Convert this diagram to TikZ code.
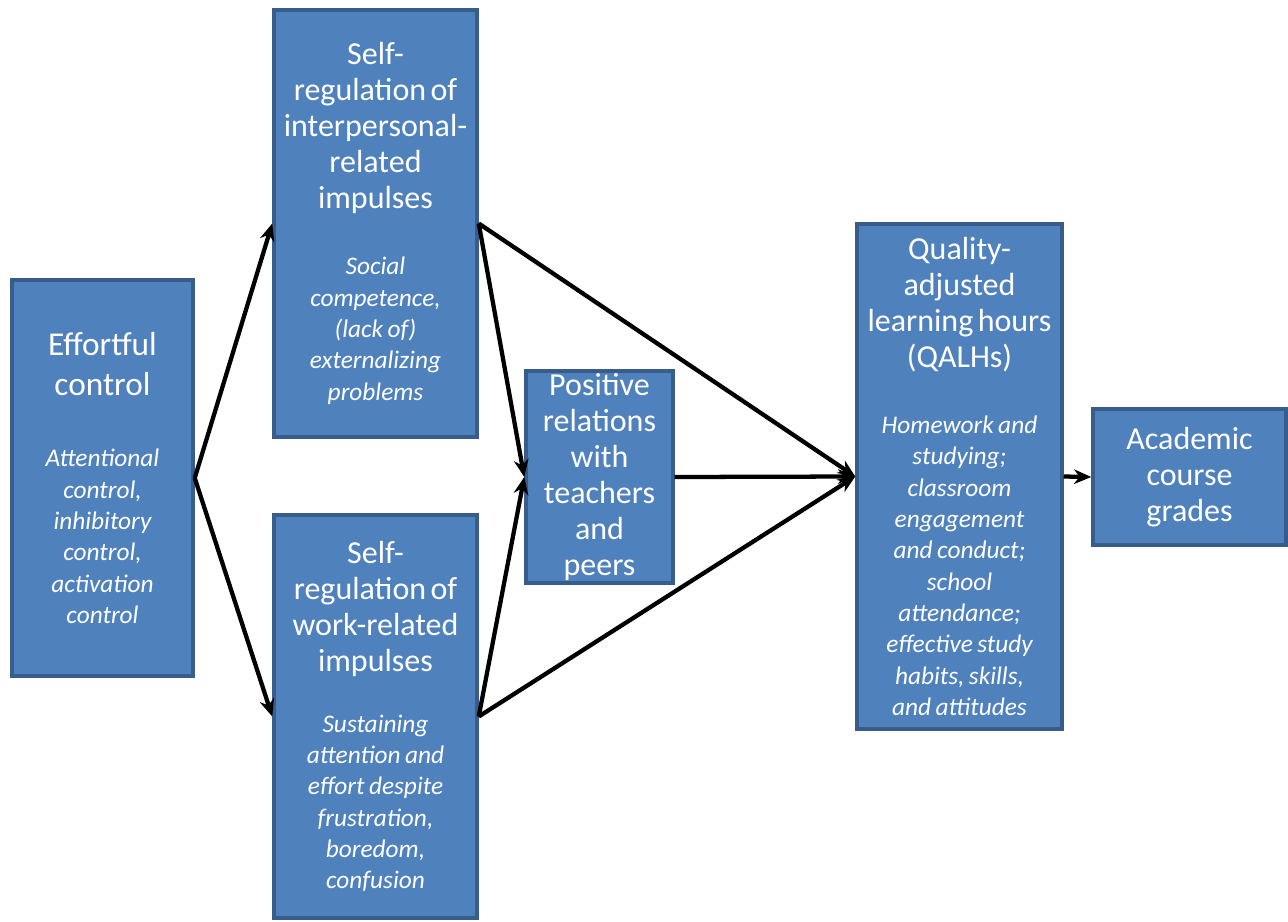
\documentclass[tikz,border=0pt]{standalone}
\usepackage{fontspec}
\setmainfont{Carlito}
\usetikzlibrary{arrows.meta}
\definecolor{boxfill}{RGB}{79,129,189}
\definecolor{boxline}{RGB}{56,93,138}
\newcommand\bxttl[1]{{\fontsize{24}{27}\selectfont #1\par}}
\newcommand\bxbig[1]{{\fontsize{25}{30}\selectfont #1\par}}
\newcommand\bxsub[1]{{\fontsize{19}{23.5}\selectfont\itshape #1\par}}
\begin{document}
\begin{tikzpicture}[x=0.75pt,y=-0.75pt,
  box/.style={draw=boxline, fill=boxfill, line width=2.6pt, text=white,
    align=center, inner sep=0pt},
  arr/.style={-{Stealth[length=13pt,width=11pt]}, line width=3.2pt, black}]
\useasboundingbox (0,0) rectangle (1288,921);

\node[box, minimum width=181*0.75pt, minimum height=396*0.75pt, text width=175*0.75pt]
  (ec) at (102.5,478) {\bxbig{Effortful\\control}\vspace{30pt}
  \bxsub{Attentional\\control,\\inhibitory\\control,\\activation\\control}};

\node[box, minimum width=203*0.75pt, minimum height=427*0.75pt, text width=198*0.75pt]
  (ip) at (375.5,223.5) {\bxttl{Self-\\regulation of\\interpersonal-\\related\\impulses}\vspace{26pt}
  \bxsub{Social\\competence,\\(lack of)\\externalizing\\problems}};

\node[box, minimum width=203*0.75pt, minimum height=403*0.75pt, text width=198*0.75pt]
  (wr) at (375.5,716.5) {\bxttl{Self-\\regulation of\\work-related\\impulses}\vspace{22pt}
  \bxsub{Sustaining\\attention and\\effort despite\\frustration,\\boredom,\\confusion}};

\node[box, minimum width=147*0.75pt, minimum height=212*0.75pt, text width=142*0.75pt]
  (pr) at (599.5,477) {\bxttl{Positive\\relations\\with\\teachers\\and\\peers}};

\node[box, minimum width=205*0.75pt, minimum height=505*0.75pt, text width=200*0.75pt]
  (qa) at (959.5,476.5) {\bxttl{Quality-\\adjusted\\learning hours\\(QALHs)}\vspace{26pt}
  \bxsub{Homework and\\studying;\\classroom\\engagement\\and conduct;\\school\\attendance;\\effective study\\habits, skills,\\and attitudes}};

\node[box, minimum width=193*0.75pt, minimum height=136*0.75pt, text width=188*0.75pt]
  (ac) at (1189.5,477) {\bxttl{Academic\\course\\grades}};

\draw[arr] (ec.east) -- (ip.west);
\draw[arr] (ec.east) -- (wr.west);
\draw[arr] (ip.east) -- (pr.west);
\draw[arr] (wr.east) -- (pr.west);
\draw[arr] (ip.east) -- (qa.west);
\draw[arr] (wr.east) -- (qa.west);
\draw[arr] (pr.east) -- (qa.west);
\draw[arr] (qa.east) -- (ac.west);
\end{tikzpicture}
\end{document}
